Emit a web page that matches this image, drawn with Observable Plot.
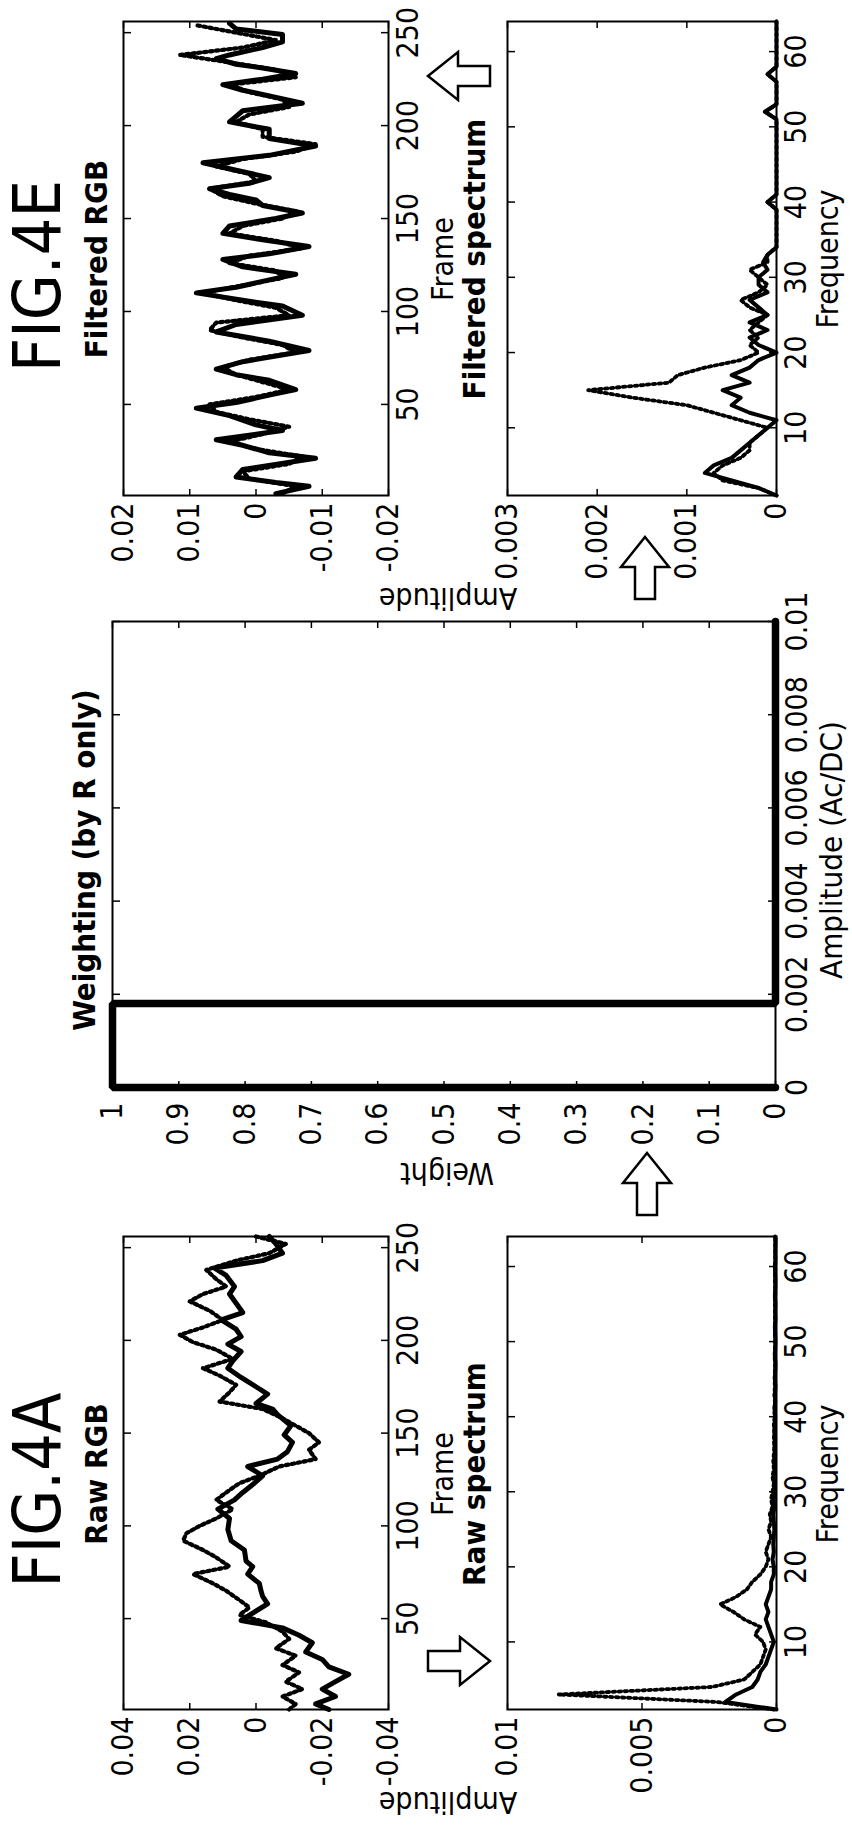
<!DOCTYPE html>
<html><head><meta charset="utf-8">
<script src="https://cdn.jsdelivr.net/npm/d3@7"></script>
<script src="https://cdn.jsdelivr.net/npm/@observablehq/plot@0.6"></script>
<style>
html,body{margin:0;padding:0;background:#fff;width:852px;height:1825px;overflow:hidden;}
#land{position:absolute;left:0;top:0;width:1825px;height:852px;transform-origin:0 0;transform:translate(0px,1825px) rotate(-90deg);background:#fff;}
#land svg{position:absolute;overflow:visible;}
</style></head>
<body><div id="land"></div>
<script>
// ---------------- DATA ----------------
// FIG.4A  Raw RGB (frame index vs amplitude)
const rawFramesS = [1,4,8,12,16,20,24,28,32,37,41,45,49,53,58,62,65,69,74,78,81,87,92,98,104,109,114,118,123,127,132,136,140,145,149,154,160,163,166,171,175,180,185,189,194,198,202,206,211,215,220,225,229,235,239,243,247,252,256];
const rawSolid = [-0.022,-0.018,-0.024,-0.020,-0.024,-0.028,-0.022,-0.020,-0.015,-0.017,-0.013,-0.008,0.0045,0.001,-0.0035,-0.002,-0.0015,-0.001,0.0025,0.001,0.003,0.0035,0.0075,0.0085,0.008,0.0115,0.0065,0.004,0.0005,-0.002,0.0025,-0.0065,-0.0095,-0.011,-0.0085,-0.0105,-0.0065,-0.005,0.000,-0.0035,0.000,0.0045,0.0085,0.007,0.0045,0.0085,0.0045,0.006,0.0105,0.004,0.006,0.008,0.0065,0.009,0.0125,-0.002,-0.008,-0.006,-0.004];
const rawFramesD = [1,4,8,12,16,21,25,30,34,39,43,48,52,56,60,65,69,74,78,83,87,92,96,100,104,109,114,118,123,127,132,136,141,145,150,154,158,163,167,172,176,181,185,190,195,199,203,207,211,216,221,225,229,233,238,243,247,252,256];
const rawDotted = [-0.010,-0.012,-0.008,-0.014,-0.009,-0.013,-0.008,-0.012,-0.006,-0.010,-0.008,-0.003,0.005,0.002,0.005,0.009,0.013,0.019,0.008,0.012,0.016,0.022,0.021,0.017,0.012,0.007,0.012,0.009,0.005,-0.001,-0.007,-0.018,-0.016,-0.019,-0.016,-0.012,-0.008,-0.002,0.011,0.008,0.006,0.011,0.016,0.007,0.012,0.019,0.023,0.016,0.010,0.014,0.020,0.016,0.009,0.012,0.015,0.006,-0.004,-0.009,0.000];

// FIG.4E  Filtered RGB
const filtFramesS = [2,6,8,11,15,21,24,28,31,36,39,44,48,51,55,58,63,66,69,73,76,79,84,89,93,98,103,106,110,113,117,120,124,128,131,135,138,142,146,150,153,157,160,163,166,169,172,176,180,184,189,193,198,202,205,208,212,216,219,222,225,228,231,233,236,238,242,245,249,252,255];
const filtSolid = [-0.003,-0.008,-0.003,0.003,0.002,-0.009,-0.002,0.002,0.006,-0.004,0.000,0.004,0.009,0.003,-0.002,-0.006,-0.002,0.003,0.006,0.002,-0.003,-0.008,-0.002,0.006,0.003,-0.007,-0.004,0.002,0.009,0.003,-0.002,-0.006,0.002,0.005,-0.002,-0.008,-0.002,0.005,0.004,-0.003,-0.007,-0.001,0.000,0.004,0.007,0.001,-0.002,0.003,0.008,-0.002,-0.009,-0.002,-0.002,0.004,0.003,0.002,-0.007,-0.002,0.002,0.005,-0.001,-0.006,-0.001,0.003,0.006,0.004,-0.001,-0.004,-0.004,0.003,0.004];
const filtFramesD = [2,6,10,14,18,22,26,30,34,38,42,46,50,54,58,62,66,70,74,78,82,86,90,94,98,102,106,110,114,118,122,126,130,134,138,142,146,150,154,158,162,166,170,174,178,182,186,190,194,198,202,206,210,214,218,222,226,230,234,238,242,246,250,254];
const filtDotted = [-0.004,-0.006,0.001,0.002,-0.005,-0.007,0.000,0.004,-0.001,-0.005,0.001,0.006,0.007,0.000,-0.005,-0.001,0.003,0.005,0.001,-0.006,-0.004,0.002,0.007,0.006,-0.005,-0.003,0.003,0.008,0.002,-0.004,-0.003,0.004,0.001,-0.007,-0.003,0.004,0.002,-0.004,-0.006,0.000,0.005,0.007,0.000,0.001,0.006,0.002,-0.006,-0.009,-0.001,-0.001,0.003,0.001,-0.005,-0.004,0.001,0.004,-0.006,-0.003,0.004,0.0115,0.002,-0.003,0.003,0.009];

// Spectra (frequency bin 1..64)
const freqs = [1,2,3,4,5,6,7,8,9,10,11,12,13,14,15,16,17,18,19,20,21,22,23,24,25,26,27,28,29,30,31,32,33,34,35,36,37,38,39,40,41,42,43,44,45,46,47,48,49,50,51,52,53,54,55,56,57,58,59,60,61,62,63,64];
const rawSpecSolid = [0.0000,0.0019,0.0015,0.0009,0.0007,0.0006,0.0004,0.0003,0.0002,0.0001,
 0.0002,0.0003,0.0004,0.0003,0.0004,0.0003,0.0002,0.0002,0.0001,0.0001,
 0.00015,0.0001,0.00012,0.0001,0.00008,0.0001,0.00012,0.00008,0.0001,0.00006,
 0.00008,0.0001,0.00006,0.00008,0.00005,0.00007,0.00005,0.00008,0.00006,0.00005,
 0.00007,0.00005,0.00006,0.00004,0.00006,0.00005,0.00004,0.00006,0.00005,0.00004,
 0.00005,0.00006,0.00004,0.00005,0.00004,0.00006,0.00005,0.00004,0.00005,0.00006,
 0.00004,0.00005,0.00004,0.00005];
const rawSpecDotted = [0.0001,0.0022,0.0081,0.0024,0.0012,0.0009,0.0006,0.0005,0.0004,0.0005,
 0.0008,0.0006,0.0012,0.0016,0.0021,0.0015,0.0011,0.0009,0.0006,0.0004,
 0.0003,0.0004,0.0003,0.0002,0.0003,0.0002,0.00025,0.00015,0.0002,0.00015,
 0.0001,0.00015,0.0001,0.00012,0.0001,0.00008,0.0001,0.00008,0.0001,0.00007,
 0.00008,0.00006,0.00008,0.00006,0.00007,0.00006,0.00005,0.00007,0.00006,0.00005,
 0.00006,0.00005,0.00006,0.00005,0.00006,0.00005,0.00004,0.00006,0.00005,0.00004,
 0.00005,0.00004,0.00005,0.00004];
const filtSpecSolid = [0,0.0002,0.0005,0.0008,0.0007,0.0005,0.0004,0.0003,0.0002,0.0001,
 0.0000,0.0003,0.0005,0.0004,0.0006,0.0003,0.0005,0.0003,0.0002,0.0000,
 0.0002,0.0003,0.0001,0.0003,0.0001,0.0002,0.0003,0.0001,0.0002,0.0002,
 0.0001,0.00015,0.0001,0,0,0,0,0,0,0.0001,
 0,0,0,0,0,0,0,0,0,0,
 0,0.00013,0,0,0,0,0.0001,0,0,0,
 0,0,0,0];
const filtSpecDotted = [0,0.0002,0.0006,0.0007,0.0006,0.0004,0.0003,0.0003,0.0002,0.0001,
 0.0004,0.0007,0.0010,0.0016,0.0021,0.0012,0.0011,0.0008,0.0004,0.0002,
 0.0003,0.0002,0.0003,0.0002,0.0001,0.0003,0.0004,0.0002,0.0001,0.0002,
 0.0003,0.0001,0.0001,0,0,0,0,0,0,0.0001,
 0,0,0,0,0,0,0,0,0,0,
 0,0.00012,0,0,0,0,0.0001,0,0,0,
 0,0,0,0];

// Weighting (by R only)
const weightAmp = [0, 0, 0.0018, 0.0018, 0.01];
const weightVal = [0, 1, 1, 0, 0];

// Tick labels
const frameTicks = [50,100,150,200,250];
const freqTicks = [10,20,30,40,50,60];
const rawAmpTicks = [-0.04,-0.02,0,0.02,0.04];
const filtAmpTicks = [-0.02,-0.01,0,0.01,0.02];
const rawSpecTicks = [0,0.005,0.01];
const filtSpecTicks = [0,0.001,0.002,0.003];
const weightTicks = [0,0.1,0.2,0.3,0.4,0.5,0.6,0.7,0.8,0.9,1];
const acdcTicks = [0,0.002,0.004,0.006,0.008,0.01];

// ---------------- DRAWING ----------------
const FONT = '"Liberation Sans Narrow","Arial Narrow","DejaVu Sans Condensed","Liberation Sans",sans-serif';
const land = document.getElementById("land");
const fmt = v => String(+(+v).toFixed(6));
const rows = (xs, ys) => xs.map((x, i) => ({x, y: ys[i]}));

function solid(data, w = 5) {
  return Plot.line(data, {x: "x", y: "y", stroke: "#000", strokeWidth: w, strokeLinejoin: "round", strokeLinecap: "round"});
}
function dotted(data, w = 4.2) {
  return Plot.line(data, {x: "x", y: "y", stroke: "#000", strokeWidth: w, strokeDasharray: "2.5,3.5"});
}

function panel({box, xDomain, yDomain, xTicks, yTicks, marks, xPad = 8, yPad = 7}) {
  const [x0, y0, x1, y1] = box;
  const ml = 120, mr = 20, mt = 20, mb = 60;
  const svg = Plot.plot({
    width: x1 - x0 + ml + mr, height: y1 - y0 + mt + mb,
    marginLeft: ml, marginRight: mr, marginTop: mt, marginBottom: mb,
    style: {fontFamily: FONT, fontSize: "30px", color: "#000", background: "transparent", overflow: "visible"},
    x: {domain: xDomain}, y: {domain: yDomain},
    marks: [
      ...marks,
      Plot.frame({stroke: "#000", strokeWidth: 2}),
      Plot.axisX(xTicks, {anchor: "bottom", tickSize: -7, tickFormat: () => "", label: null, strokeWidth: 1.5}),
      Plot.axisX(xTicks, {anchor: "top", tickSize: -7, tickFormat: () => "", label: null, strokeWidth: 1.5}),
      Plot.axisY(yTicks, {anchor: "left", tickSize: -7, tickFormat: () => "", label: null, strokeWidth: 1.5}),
      Plot.axisY(yTicks, {anchor: "right", tickSize: -7, tickFormat: () => "", label: null, strokeWidth: 1.5}),
      Plot.axisX(xTicks, {anchor: "bottom", tickSize: 0, tickPadding: xPad, tickFormat: fmt, label: null, fontSize: 30}),
      Plot.axisY(yTicks, {anchor: "left", tickSize: 0, tickPadding: yPad, tickFormat: fmt, label: null, fontSize: 30})
    ]
  });
  svg.style.left = (x0 - ml) + "px";
  svg.style.top = (y0 - mt) + "px";
  land.appendChild(svg);
}

// Raw RGB
panel({box: [115, 123, 588, 388], xDomain: [1, 256], yDomain: [-0.04, 0.04], xTicks: frameTicks, yTicks: rawAmpTicks,
  marks: [dotted(rows(rawFramesD, rawDotted)), solid(rows(rawFramesS, rawSolid))]});
// Raw spectrum
panel({box: [115, 507, 588, 776], xDomain: [1, 64], yDomain: [0, 0.01], xTicks: freqTicks, yTicks: rawSpecTicks,
  marks: [dotted(rows(freqs, rawSpecDotted), 3.8), solid(rows(freqs, rawSpecSolid), 4)]});
// Weighting
panel({box: [737, 112, 1203, 775], xDomain: [0, 0.01], yDomain: [0, 1], xTicks: acdcTicks, yTicks: weightTicks, xPad: 10, yPad: 15,
  marks: [Plot.line(rows(weightAmp, weightVal), {x: "x", y: "y", stroke: "#000", strokeWidth: 7.5, strokeLinejoin: "miter"})]});
// Filtered RGB
panel({box: [1329, 123, 1803, 388], xDomain: [1, 256], yDomain: [-0.02, 0.02], xTicks: frameTicks, yTicks: filtAmpTicks,
  marks: [dotted(rows(filtFramesD, filtDotted)), solid(rows(filtFramesS, filtSolid))]});
// Filtered spectrum
panel({box: [1329, 507, 1803, 776], xDomain: [1, 64], yDomain: [0, 0.003], xTicks: freqTicks, yTicks: filtSpecTicks,
  marks: [dotted(rows(freqs, filtSpecDotted), 3.8), solid(rows(freqs, filtSpecSolid), 4)]});

// ---------- overlay: titles, labels, arrows ----------
const ov = d3.select(land).append("svg")
  .attr("width", 1825).attr("height", 852)
  .style("left", "0px").style("top", "0px")
  .style("font-family", FONT);

const labels = [
  {t: "FIG.4A", x: 335, y: 60, s: 66, w: "normal"},
  {t: "FIG.4E", x: 1549, y: 60, s: 66, w: "normal"},
  {t: "Raw RGB", x: 351, y: 107, s: 31, w: "bold"},
  {t: "Filtered RGB", x: 1566, y: 107, s: 31, w: "bold"},
  {t: "Weighting (by R only)", x: 965, y: 95, s: 31, w: "bold"},
  {t: "Frame", x: 351, y: 453, s: 30, w: "normal"},
  {t: "Frame", x: 1566, y: 453, s: 30, w: "normal"},
  {t: "Raw spectrum", x: 351, y: 485, s: 31, w: "bold"},
  {t: "Filtered spectrum", x: 1566, y: 485, s: 31, w: "bold"},
  {t: "Frequency", x: 351, y: 838, s: 30, w: "normal"},
  {t: "Frequency", x: 1566, y: 838, s: 30, w: "normal"},
  {t: "Amplitude (Ac/DC)", x: 975, y: 842, s: 31, w: "normal"}
];
ov.selectAll("text.l").data(labels).join("text").attr("class", "l")
  .attr("x", d => d.x).attr("y", d => d.y)
  .attr("text-anchor", "middle").attr("font-size", d => d.s).attr("font-weight", d => d.w)
  .attr("fill", "#000").text(d => d.t);

const vlabels = [
  {t: "Amplitude", x: 33, y: 448},
  {t: "Weight", x: 662, y: 447},
  {t: "Amplitude", x: 1237, y: 448}
];
ov.selectAll("text.v").data(vlabels).join("text").attr("class", "v")
  .attr("transform", d => `translate(${d.x},${d.y}) rotate(-90)`)
  .attr("text-anchor", "middle").attr("font-size", 30).attr("fill", "#000").text(d => d.t);

// block arrows: tip position and direction
const arrows = [
  {x: 164, y: 490, dx: 0, dy: 1},
  {x: 672, y: 647, dx: 1, dy: 0},
  {x: 1288, y: 645, dx: 1, dy: 0},
  {x: 1749, y: 428, dx: 0, dy: -1}
];
function arrowPts(a) {
  const L = 62, H = 30, hw = 24, sw = 10;
  const nx = -a.dy, ny = a.dx;
  const bx = a.x - a.dx * H, by = a.y - a.dy * H;
  const tx = a.x - a.dx * L, ty = a.y - a.dy * L;
  const p = [[a.x, a.y], [bx + nx * hw, by + ny * hw], [bx + nx * sw, by + ny * sw], [tx + nx * sw, ty + ny * sw],
             [tx - nx * sw, ty - ny * sw], [bx - nx * sw, by - ny * sw], [bx - nx * hw, by - ny * hw]];
  return p.map(q => q.join(",")).join(" ");
}
ov.selectAll("polygon").data(arrows).join("polygon")
  .attr("points", arrowPts).attr("fill", "#fff").attr("stroke", "#000").attr("stroke-width", 2.5)
  .attr("stroke-linejoin", "miter");
</script>
</body></html>
